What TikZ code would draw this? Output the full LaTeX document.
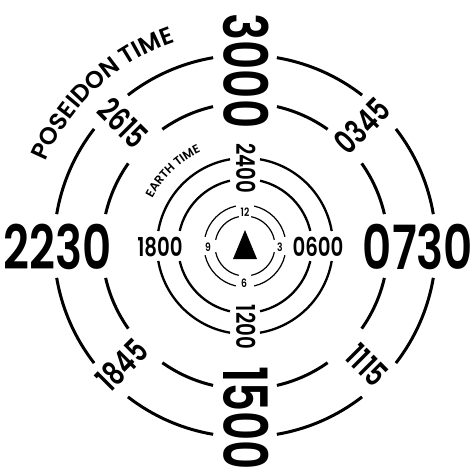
\documentclass[tikz,border=0pt]{standalone}
\usepackage{fontspec}
\setmainfont{Poppins}[BoldFont={Poppins SemiBold}]
\usetikzlibrary{decorations.text}
\newcommand\sxx[2]{\scalebox{#1}[1]{#2}}
\begin{document}
\begin{tikzpicture}[x=1pt,y=1pt,
  pring/.style={line width=3pt},
  ering/.style={line width=2.3pt},
  sring/.style={line width=1.2pt},
  biglab/.style={inner sep=0pt, font=\bfseries\fontsize{61}{61}\selectfont},
  midlab/.style={inner sep=0pt, font=\bfseries\fontsize{33}{33}\selectfont},
  earlab/.style={inner sep=0pt, font=\bfseries\fontsize{26}{26}\selectfont},
  smalllab/.style={inner sep=0pt, font=\bfseries\fontsize{11.5}{11.5}\selectfont}]
\useasboundingbox (0,0) rectangle (475,-474);
\coordinate (C) at (245,-246);

% Poseidon rings (gaps at 8 label positions)
\foreach \r/\gc/\gd in {191/9.6/7.2, 143/12.9/9.7} {
  \foreach \a in {0,90,180,270} {
    \draw[pring] ([shift={(C)}] {\a+\gc}:\r) arc[start angle={\a+\gc}, end angle={\a+45-\gd}, radius=\r];
    \draw[pring] ([shift={(C)}] {\a+45+\gd}:\r) arc[start angle={\a+45+\gd}, end angle={\a+90-\gc}, radius=\r];
  }
}
% Earth rings (gaps at 4 cardinal points)
\foreach \r/\g in {88/9.8, 67/13} {
  \foreach \a in {0,90,180,270} {
    \draw[ering] ([shift={(C)}] {\a+\g}:\r) arc[start angle={\a+\g}, end angle={\a+90-\g}, radius=\r];
  }
}
% small clock rings
\foreach \r/\g in {41/13, 30/12} {
  \foreach \a in {0,90,180,270} {
    \draw[sring] ([shift={(C)}] {\a+\g}:\r) arc[start angle={\a+\g}, end angle={\a+90-\g}, radius=\r];
  }
}

% Poseidon labels
\node[biglab, rotate=-90] (p3000) at (246,-71) {\sxx{0.74}{3000}};
\node[biglab, rotate=-90] (p1500) at (246,-418) {\sxx{0.74}{1500}};
\node[biglab] (p2230) at (58,-247) {\sxx{0.74}{2230}};
\node[biglab] (p0730) at (418,-247) {\sxx{0.74}{0730}};
\node[midlab, rotate=-45] (p2615) at (123,-123) {\sxx{0.74}{2615}};
\node[midlab, rotate=45] (p0345) at (362,-126) {\sxx{0.74}{0345}};
\node[midlab, rotate=45] (p1845) at (122,-365) {\sxx{0.74}{1845}};
\node[midlab, rotate=-45] (p1115) at (367,-365) {\sxx{0.74}{1115}};

% Earth labels
\node[earlab, rotate=-90] (e2400) at (246,-168) {\sxx{0.76}{2400}};
\node[earlab, rotate=-90] (e1200) at (246,-327) {\sxx{0.76}{1200}};
\node[earlab] (e1800) at (160,-247) {\sxx{0.76}{1800}};
\node[earlab] (e0600) at (318,-247) {\sxx{0.76}{0600}};

% clock labels
\node[smalllab] (c12) at (245,-212) {\sxx{0.8}{12}};
\node[smalllab] (c6) at (244,-283) {\sxx{0.8}{6}};
\node[smalllab] (c9) at (208,-247) {\sxx{0.8}{9}};
\node[smalllab] (c3) at (280,-247) {\sxx{0.8}{3}};

% north arrow
\fill (245,-230) -- (257,-259) -- (233,-259) -- cycle;

% curved titles
\path[decorate, decoration={text along path, text align=center,
  text={|\bfseries\fontsize{24}{24}\selectfont|POSEIDON TIME}}]
  ([shift={(C)}] 160:216) arc[start angle=160, end angle=106, radius=216];
\path[decorate, decoration={text along path, text align=center,
  text={|\bfseries\fontsize{12}{12}\selectfont|EARTH TIME}}]
  ([shift={(C)}] 156:104) arc[start angle=156, end angle=112, radius=104];
\end{tikzpicture}
\end{document}
